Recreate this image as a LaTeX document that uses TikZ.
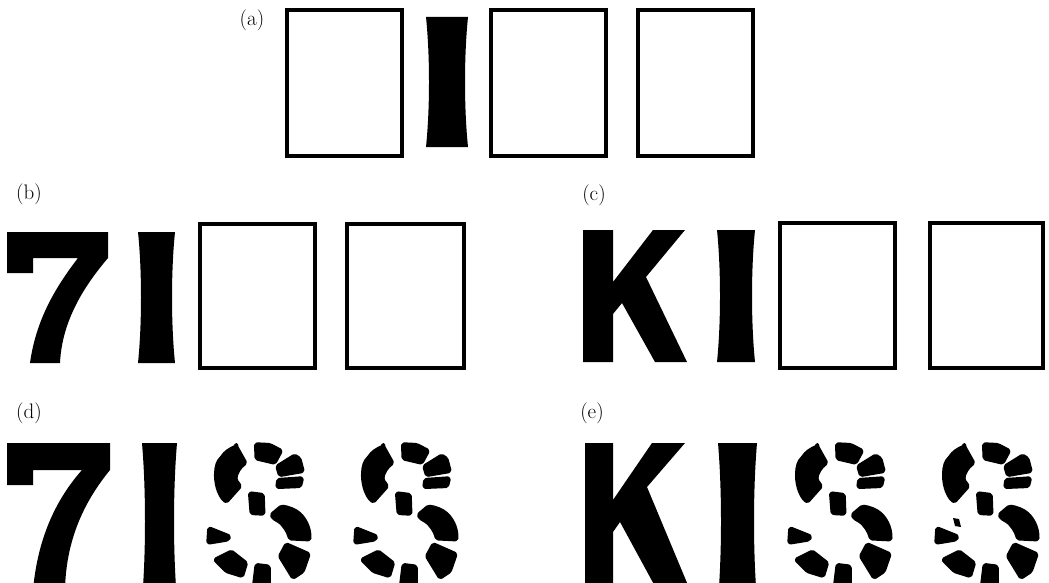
\documentclass[tikz,border=0pt]{standalone}
\usepackage{fontspec}
\newcommand\myIbar[4]{\fill[glyph] (#1,#2) -- (#3,#2) .. controls (#3-4,{#2+(#4-#2)*0.3}) and (#3-4,{#2+(#4-#2)*0.7}) .. (#3,#4) -- (#1,#4) .. controls (#1+4,{#2+(#4-#2)*0.7}) and (#1+4,{#2+(#4-#2)*0.3}) .. (#1,#2) -- cycle;}
\begin{document}
\begin{tikzpicture}[x=1pt,y=-1pt,
  box/.style={draw=black,line width=4pt},
  glyph/.style={fill=black,draw=none},
  piece/.style={fill=black,draw=black,line width=3.5pt,line join=round,rounded corners=1.5pt},
  lbl/.style={font=\fontsize{21}{25}\selectfont,inner sep=0pt},
  brokenS/.pic={
    \filldraw[piece] (383.3,446.3) -- (392.7,463) .. controls (387,467) and (383,473) .. (382.7,479.7) -- (387.3,486.3) -- (373.3,502) .. controls (367,497) and (363,487) .. (362.7,474.7) .. controls (363,466) and (365,461) .. (368.3,458) .. controls (372,452) and (377,449) .. (383.3,446.3) -- cycle;
    \filldraw[piece] (402.7,444) -- (416.7,444.7) -- (428.3,450.7) -- (421.7,463) -- (403.3,458.7) -- cycle;
    \filldraw[piece] (424,466.3) -- (441.7,455.3) -- (446.7,458.7) -- (450,471.3) -- (426.7,475.3) -- cycle;
    \filldraw[piece] (425,479.7) -- (449.3,478) -- (447.3,486.3) -- (424,487.3) -- cycle;
    \filldraw[piece] (396.7,493) -- (410,494.7) -- (410.7,514) -- (398.3,513.3) -- cycle;
    \filldraw[piece] (418.3,514.7) -- (428.3,506.3) .. controls (435,507) and (443,510) .. (448,515) .. controls (454,522) and (457,530) .. (456.7,539.7) -- (436.7,538.7) .. controls (435,531) and (430,525) .. (426.7,522) -- (420,518) -- cycle;
    \filldraw[piece] (356,528) -- (376.7,536.3) -- (375,539.7) -- (355,543) -- cycle;
    \filldraw[piece] (361.7,559.7) -- (378.3,551.3) -- (393.3,563) -- (389.3,576.3) -- (373.3,571.3) -- cycle;
    \filldraw[piece] (403.3,564.7) -- (416,566.3) -- (416,592) -- (400,592) -- cycle;
    \filldraw[piece] (426.7,556.3) -- (433.3,544) -- (456,554) -- (450,571.3) -- (440,578) -- cycle;
  }]
\useasboundingbox (0,0) rectangle (1049,583);
\clip (0,0) rectangle (1049,583);

% labels
\node[lbl] (la) at (252,20) {(a)};
\node[lbl] (lb) at (29,194) {(b)};
\node[lbl] (lc) at (594,195) {(c)};
\node[lbl] (ld) at (29,413) {(d)};
\node[lbl] (le) at (592,413) {(e)};

% row (a)
\draw[box] (287,10) rectangle (402,156);
\myIbar{426}{17}{468}{147}
\draw[box] (491,10) rectangle (606,156);
\draw[box] (638,10) rectangle (753,156);

% row (b)
\fill[glyph] (7,232) -- (108,232) -- (108,258) .. controls (85,285) and (62,320) .. (60,363) -- (30,363) .. controls (36,320) and (55,288) .. (78,258) -- (33,258) -- (33,273) -- (7,273) -- cycle;
\myIbar{138}{232}{175}{363}
\draw[box] (200,224) rectangle (315,368);
\draw[box] (347,224) rectangle (464,368);

% row (c)
\fill[glyph] (583,230) -- (613,230) -- (613,282) -- (653,230) -- (685,230) -- (646,277) -- (687,362) -- (655,362) -- (622,303) -- (613,314) -- (613,362) -- (583,362) -- cycle;
\myIbar{717}{230}{755}{362}
\draw[box] (780,223) rectangle (895,368);
\draw[box] (930,223) rectangle (1043,368);

% row (d)
\fill[glyph] (7,443) -- (110,443) -- (110,470) .. controls (88,497) and (66,535) .. (65,590) -- (33,590) .. controls (38,535) and (58,497) .. (82,470) -- (33,470) -- (33,485) -- (7,485) -- cycle;
\myIbar{142}{443}{177}{600}
\pic at (-147,0) {brokenS};
\pic at (0,0) {brokenS};

% row (e)
\fill[glyph] (585,443) -- (613,443) -- (613,500) -- (652,443) -- (685,443) -- (647,487) -- (690,590) -- (657,590) -- (620,522) -- (613,532) -- (613,590) -- (585,590) -- cycle;
\myIbar{718}{443}{757}{600}
\pic at (434,0) {brokenS};
\pic at (581,0) {brokenS};
\fill[glyph] (953,518) -- (959,519) -- (961,527) -- (955,526) -- cycle;
\end{tikzpicture}
\end{document}
